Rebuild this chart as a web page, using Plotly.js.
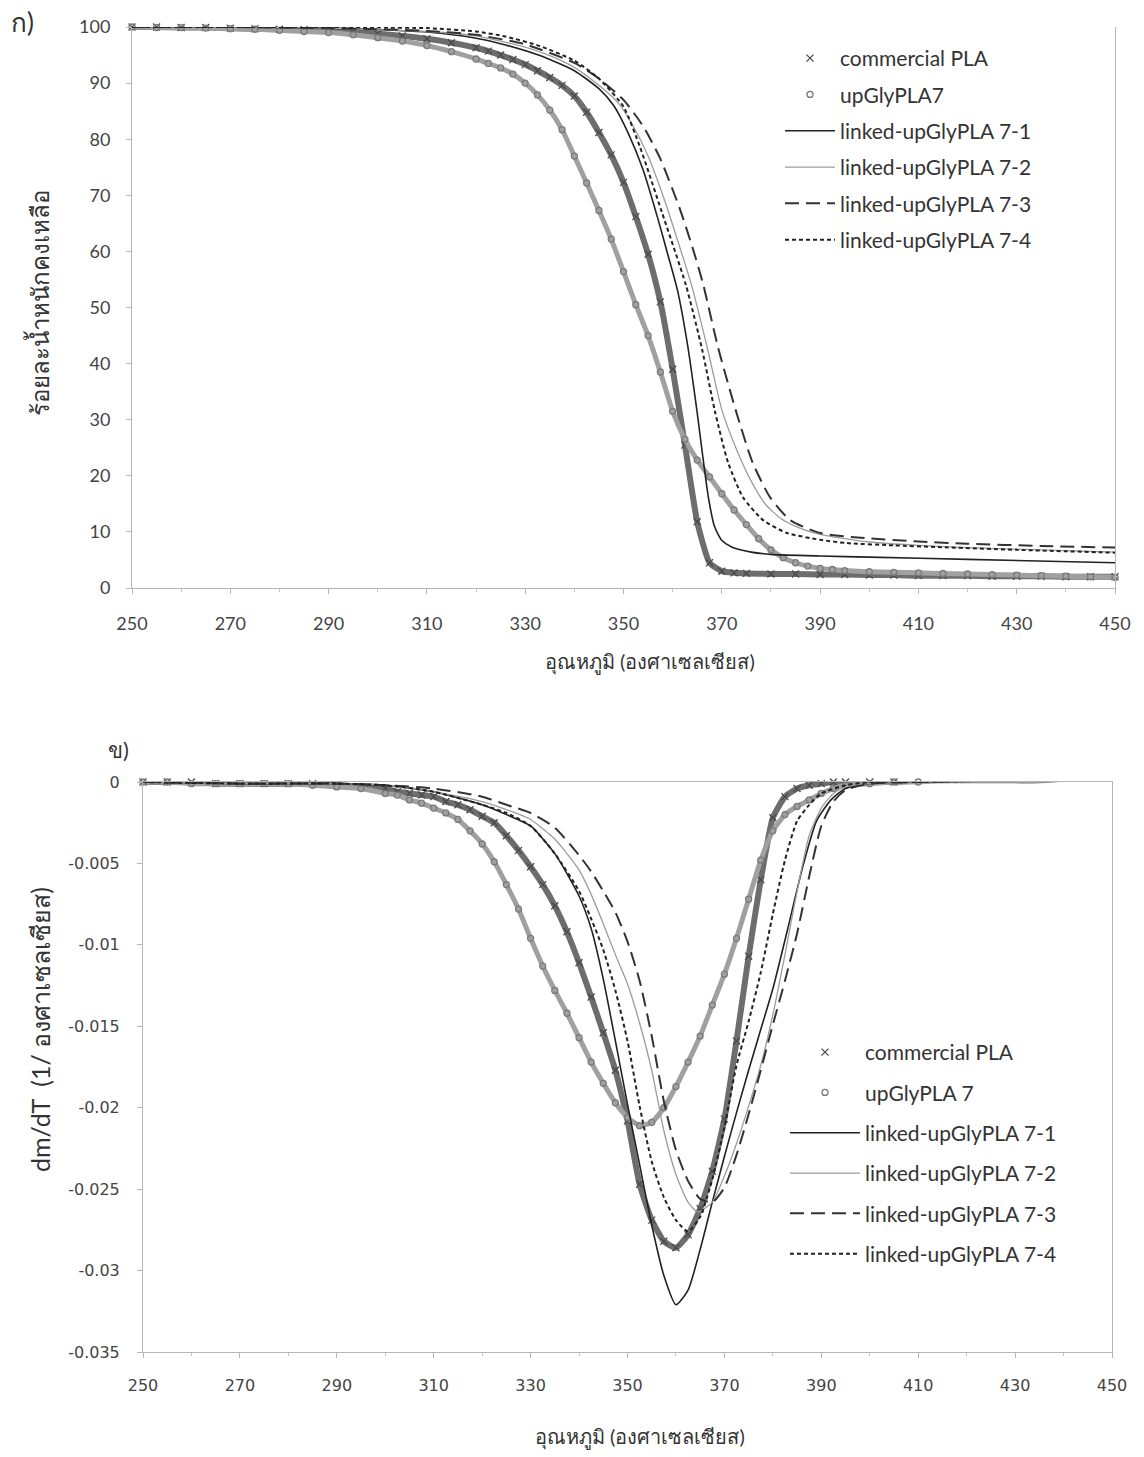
<!DOCTYPE html>
<html><head><meta charset="utf-8">
<script src="https://cdn.plot.ly/plotly-3.0.1.min.js"></script>
<style>html,body{margin:0;padding:0;background:#fff}#chart{width:1144px;height:1457px}</style>
</head><body><div id="chart"></div>
<script>
// ---------- TOP: residual weight (%) ----------
const topPLA_T = [250,255,260,265,270,275,280,285,290,295,300,305,310,315,320,322.5,325,327.5,330,332.5,335,337.5,340,342.5,345,347.5,350,352.5,355,357.5,360,362.5,365,367.5,370,372.5,375,380,385,390,395,400,405,410,415,420,425,430,435,440,445,450];
const topPLA_W = [100.0,100.0,99.9,99.9,99.8,99.7,99.6,99.5,99.3,99.1,98.8,98.4,97.9,97.2,96.3,95.7,95.0,94.2,93.3,92.2,91.0,89.6,87.7,84.8,81.2,77.2,72.3,66.2,59.5,51.0,39.0,25.5,11.8,4.5,3.0,2.7,2.6,2.5,2.5,2.4,2.4,2.3,2.3,2.2,2.2,2.2,2.1,2.1,2.1,2.0,2.0,2.0];

const topGly_T = [250,255,260,265,270,275,280,285,290,295,300,305,310,315,320,322.5,325,327.5,330,332.5,335,337.5,340,342.5,345,347.5,350,352.5,355,357.5,360,362.5,365,367.5,370,372.5,375,377.5,380,382.5,385,387.5,390,392.5,395,400,405,410,415,420,425,430,435,440,445,450];
const topGly_W = [100.0,99.9,99.9,99.8,99.7,99.6,99.4,99.2,99.0,98.6,98.1,97.5,96.7,95.6,94.3,93.5,92.7,91.6,90.0,87.9,85.2,81.7,77.0,72.2,67.3,62.2,56.4,50.5,45.0,38.5,31.5,26.5,22.8,19.8,16.8,13.9,11.3,8.8,6.8,5.4,4.5,3.9,3.5,3.3,3.1,2.9,2.8,2.7,2.6,2.5,2.4,2.3,2.2,2.1,2.0,1.9];

const top71_T = [250,270,290,300,310,320,326,333,340,345,348,351,354,357,359,361,363,365,366.3,367.3,368.5,370,372,376,380,390,400,420,450];
const top71_W = [100,100,99.8,99.5,99.1,98.0,96.8,94.9,92.2,89.0,86.0,81.0,74.5,65.8,59.5,53.0,43.5,31.2,22.3,16.0,11.0,8.5,7.3,6.4,6.0,5.7,5.5,5.1,4.5];

const top72_T = [250,270,290,300,310,320,330,335,340,345,349,352,355,358,361,364,367,370,373,376,379,382,385,389,395,400,410,420,435,450];
const top72_W = [100,100,99.8,99.5,99.2,98.4,96.4,94.9,92.8,89.6,86.4,82.3,77.0,70.0,62.0,53.5,43.0,31.8,24.7,19.0,14.8,12.4,11.0,9.8,8.8,8.2,7.6,7.2,6.8,6.4];

const top73_T = [250,270,290,300,310,320,330,340,345,350,354,357.5,361.5,364,366.2,369.2,373,376.3,379.8,383.9,390,399,410,420,435,450];
const top73_W = [100,100,99.8,99.6,99.3,98.6,96.9,93.6,90.8,87.0,82.3,76.5,67.5,60.8,54.2,43.0,31.2,22.3,16.2,12.1,9.8,8.9,8.3,7.9,7.5,7.2];

const top74_T = [250,270,290,300,310,320,326,333,340,345,350,353.4,357.8,362.7,366,368.6,371.3,374.3,378.4,383.3,390,395.5,405,414,430,450];
const top74_W = [100,100,100,99.9,99.8,99.2,98.3,96.6,94.0,90.8,85.8,78.5,67.0,54.0,42.5,31.5,22.3,16.2,12.1,9.8,8.6,8.0,7.6,7.3,6.8,6.3];

// ---------- BOTTOM: dm/dT ----------
const botPLA_T = [250,255,260,265,270,275,280,285,290,295,300,302.5,305,307.5,310,312.5,315,317.5,320,322.5,325,327.5,330,332.5,335,337.5,340,342.5,345,347.5,350,352.5,355,357.5,360,362.5,365,367.5,370,372.5,375,377.5,380,382.5,385,387.5,390,392.5,395,400,405,410,415,420,425,430,435,440,445,450];
const botPLA_D = [0,0,0,-0.0001,-0.0001,-0.0001,-0.0001,-0.0001,-0.0002,-0.0003,-0.0004,-0.0006,-0.0007,-0.0008,-0.0009,-0.0012,-0.0014,-0.0017,-0.0021,-0.0025,-0.0033,-0.0042,-0.0052,-0.0063,-0.0076,-0.0092,-0.0111,-0.0132,-0.0154,-0.0177,-0.0208,-0.0247,-0.0269,-0.0282,-0.0286,-0.0278,-0.0262,-0.0239,-0.0207,-0.0159,-0.0107,-0.0060,-0.0022,-0.0009,-0.0004,-0.0002,-0.0001,0,0,0,0,0.0001,0.0001,0.0001,0.0001,0.0001,0.0001,0.0002,0.0002,0.0002];

const botGly_T = [250,255,260,265,270,275,280,285,290,295,300,302.5,305,307.5,310,312.5,315,317.5,320,322.5,325,327.5,330,332.5,335,337.5,340,342.5,345,347.5,350,352.5,355,357.5,360,362.5,365,367.5,370,372.5,375,377.5,380,382.5,385,387.5,390,392.5,395,400,405,410,415,420,425,430,435,440,445,450];
const botGly_D = [0,0,-0.0001,-0.0001,-0.0001,-0.0001,-0.0001,-0.0002,-0.0003,-0.0004,-0.0007,-0.0008,-0.0011,-0.0013,-0.0016,-0.0019,-0.0023,-0.0030,-0.0038,-0.0049,-0.0063,-0.0078,-0.0096,-0.0113,-0.0128,-0.0142,-0.0157,-0.0172,-0.0185,-0.0197,-0.0206,-0.0211,-0.0209,-0.0200,-0.0187,-0.0172,-0.0156,-0.0137,-0.0118,-0.0096,-0.0072,-0.0048,-0.0030,-0.0020,-0.0015,-0.0011,-0.0007,-0.0004,-0.0002,-0.0001,0,0,0.0001,0.0001,0.0001,0.0001,0.0001,0.0002,0.0002,0.0002];

const bot71_T = [250,270,290,300,310,320,325,330,335,340,342.5,345,347.5,350,352.5,355,357.5,360,362.5,365,367.5,370,372.5,375,377.5,380,383,386,389,392,395,400,410,430,450];
const bot71_D = [0,-0.0001,-0.0001,-0.0002,-0.0006,-0.0014,-0.0020,-0.0027,-0.0044,-0.0070,-0.0090,-0.0121,-0.0159,-0.0198,-0.0235,-0.0272,-0.0303,-0.0321,-0.0312,-0.0287,-0.0258,-0.0230,-0.0203,-0.0177,-0.0152,-0.0127,-0.0091,-0.0054,-0.0024,-0.0011,-0.0004,-0.0001,0,0.0001,0.0001];

const bot72_T = [250,270,290,300,310,320,325,330,335,337.5,340,342.5,345,347.5,350,352.5,355,357.5,360,362.5,364.5,367.5,370,372.5,375,377.5,380,382.5,385,387.5,390,392.5,395,400,410,430,450];
const bot72_D = [0,-0.0001,-0.0001,-0.0002,-0.0006,-0.0012,-0.0017,-0.0023,-0.0035,-0.0044,-0.0054,-0.0069,-0.0087,-0.0106,-0.0124,-0.0148,-0.0177,-0.0214,-0.0241,-0.0258,-0.0264,-0.0258,-0.0242,-0.0222,-0.0199,-0.0174,-0.0143,-0.0106,-0.0067,-0.0033,-0.0016,-0.0007,-0.0003,-0.0001,0,0.0001,0.0001];

const bot73_T = [250,270,290,300,310,320,325,330,335,340,342.5,345,347.5,350,352.5,355,357.5,360,362.5,365,367.5,370,372.5,375,377.5,380,382.5,385,387.5,390,392.5,395,400,410,430,450];
const bot73_D = [0,-0.0001,-0.0001,-0.0002,-0.0004,-0.0009,-0.0014,-0.0019,-0.0028,-0.0045,-0.0055,-0.0067,-0.0080,-0.0098,-0.0122,-0.0156,-0.0196,-0.0226,-0.0245,-0.0256,-0.0258,-0.0249,-0.0229,-0.0204,-0.0177,-0.0149,-0.0122,-0.0093,-0.0058,-0.0027,-0.0012,-0.0005,-0.0001,0,0.0001,0.0001];

const bot74_T = [250,270,290,300,310,320,325,330,335,340,342.5,345,347.5,350,352.5,355,357.5,360,362.5,365,367.5,370,372.5,375,377.5,380,382.5,385,387.5,390,395,400,410,430,450];
const bot74_D = [0,-0.0001,-0.0001,-0.0002,-0.0006,-0.0014,-0.0019,-0.0027,-0.0044,-0.0067,-0.0084,-0.0103,-0.0128,-0.0159,-0.0199,-0.0233,-0.0255,-0.0269,-0.0276,-0.0267,-0.0244,-0.0212,-0.0174,-0.0147,-0.0117,-0.0081,-0.0048,-0.0024,-0.0014,-0.0007,-0.0002,0,0,0.0001,0.0001];

// ---------- labels ----------
const namesTop = ['commercial PLA','upGlyPLA7','linked-upGlyPLA 7-1','linked-upGlyPLA 7-2','linked-upGlyPLA 7-3','linked-upGlyPLA 7-4'];
const namesBot = ['commercial PLA','upGlyPLA 7','linked-upGlyPLA 7-1','linked-upGlyPLA 7-2','linked-upGlyPLA 7-3','linked-upGlyPLA 7-4'];
const xTickVals = [250,270,290,310,330,350,370,390,410,430,450];
const yTopTickVals = [0,10,20,30,40,50,60,70,80,90,100];
const yBotTickVals = [-0.035,-0.03,-0.025,-0.02,-0.015,-0.01,-0.005,0];
const yBotTickText = ['-0.035','-0.03','-0.025','-0.02','-0.015','-0.01','-0.005','0'];
const xTitle = 'อุณหภูมิ (องศาเซลเซียส)';
const yTopTitle = 'ร้อยละน้ำหนักคงเหลือ';
const yBotTitle = 'dm/dT\u00a0\u00a0(1/ องศาเซลเซียส)';
const panelLabels = ['ก)','ข)'];

const FONT = 'Lato, "Noto Sans", "DejaVu Sans", sans-serif';
const FONT2 = '"DejaVu Sans", Lato, sans-serif';

function bandTraces(T, V, name, ax, leg, grp, bandColor, bw, sym, mcol, msize) {
  return [
    {x:T, y:V, xaxis:ax[0], yaxis:ax[1], mode:'lines', line:{color:bandColor, width:bw, shape:'spline', smoothing:0.5},
     showlegend:false, legendgroup:grp, legend:leg, hoverinfo:'skip', cliponaxis:false},
    {x:T, y:V, xaxis:ax[0], yaxis:ax[1], mode:'markers', name:name, legendgroup:grp, legend:leg, cliponaxis:false,
     marker:{symbol:sym, size:msize, color:mcol, line:{color:mcol, width:1.3}}}
  ];
}
function lineTrace(T, V, name, ax, leg, grp, color, width, dash) {
  return {x:T, y:V, xaxis:ax[0], yaxis:ax[1], mode:'lines', name:name, legendgroup:grp, legend:leg, cliponaxis:false,
    line:{color:color, width:width, dash:dash, shape:'spline', smoothing:0.6}};
}
const A1 = ['x','y'], A2 = ['x2','y2'];
const traces = [].concat(
  bandTraces(topPLA_T, topPLA_W, namesTop[0], A1, 'legend', 't0', '#6d6d6d', 6, 'x-thin-open', '#4a4a4a', 7),
  bandTraces(topGly_T, topGly_W, namesTop[1], A1, 'legend', 't1', '#a0a0a0', 5, 'circle-open', '#7a7a7a', 6),
  [lineTrace(top71_T, top71_W, namesTop[2], A1, 'legend', 't2', '#222', 1.6, 'solid'),
   lineTrace(top72_T, top72_W, namesTop[3], A1, 'legend', 't3', '#9c9c9c', 1.3, 'solid'),
   lineTrace(top73_T, top73_W, namesTop[4], A1, 'legend', 't4', '#333', 2, '14px,7px'),
   lineTrace(top74_T, top74_W, namesTop[5], A1, 'legend', 't5', '#222', 2, '4px,3px')],
  bandTraces(botPLA_T, botPLA_D, namesBot[0], A2, 'legend2', 'b0', '#6d6d6d', 6, 'x-thin-open', '#4a4a4a', 7),
  bandTraces(botGly_T, botGly_D, namesBot[1], A2, 'legend2', 'b1', '#a0a0a0', 5, 'circle-open', '#7a7a7a', 6),
  [lineTrace(bot71_T, bot71_D, namesBot[2], A2, 'legend2', 'b2', '#222', 1.6, 'solid'),
   lineTrace(bot72_T, bot72_D, namesBot[3], A2, 'legend2', 'b3', '#9c9c9c', 1.3, 'solid'),
   lineTrace(bot73_T, bot73_D, namesBot[4], A2, 'legend2', 'b4', '#333', 2, '14px,7px'),
   lineTrace(bot74_T, bot74_D, namesBot[5], A2, 'legend2', 'b5', '#222', 2, '4px,3px')]
);

const W = 1144, H = 1457;
const px = v => v / W, py = v => 1 - v / H;
const axCommon = {showgrid:false, zeroline:false, showline:true, linecolor:'#b5b5b5', linewidth:1,
  ticks:'outside', ticklen:5, tickcolor:'#b5b5b5'};

function ann(text, x, y, size, angle) {
  return {text:text, xref:'paper', yref:'paper', x:px(x), y:py(y), xanchor:'center', yanchor:'middle',
    showarrow:false, textangle:angle||0, font:{size:size, color:'#333', family:FONT}};
}

const layout = {
  width:W, height:H, margin:{l:0, r:0, t:0, b:0}, paper_bgcolor:'#fff', plot_bgcolor:'#fff',
  font:{family:FONT, color:'#333'},
  xaxis: Object.assign({}, axCommon, {domain:[px(132), px(1115)], range:[250,450], anchor:'y',
    tickmode:'array', tickvals:xTickVals, tickfont:{size:18, color:'#444'}, ticklabelstandoff:14,
    minor:{dtick:10, ticks:'outside', ticklen:3, tickcolor:'#c5c5c5'}}),
  yaxis: Object.assign({}, axCommon, {domain:[py(588), py(27)], range:[0,100], anchor:'x', mirror:true,
    tickmode:'array', tickvals:yTopTickVals, tickfont:{size:18, color:'#444'}, ticklabelstandoff:12}),
  xaxis2: Object.assign({}, axCommon, {domain:[px(143), px(1112)], range:[250,450], anchor:'y2', mirror:true,
    tickmode:'array', tickvals:xTickVals, tickfont:{size:16, color:'#444', family:FONT2}, ticklabelstandoff:14,
    minor:{dtick:10, ticks:'outside', ticklen:3, tickcolor:'#c5c5c5'}}),
  yaxis2: Object.assign({}, axCommon, {domain:[py(1352), py(782)], range:[-0.035,0], anchor:'x2', mirror:true,
    tickmode:'array', tickvals:yBotTickVals, ticktext:yBotTickText, tickfont:{size:16, color:'#444', family:FONT2}, ticklabelstandoff:14}),
  legend: {x:px(780), y:py(38), xanchor:'left', yanchor:'top', bgcolor:'rgba(0,0,0,0)', borderwidth:0,
    font:{size:21, color:'#333', family:FONT}, traceorder:'grouped', tracegroupgap:6, itemwidth:50},
  legend2: {x:px(785), y:py(1032), xanchor:'left', yanchor:'top', bgcolor:'rgba(0,0,0,0)', borderwidth:0,
    font:{size:21, color:'#333', family:FONT}, traceorder:'grouped', tracegroupgap:10, itemwidth:70},
  annotations: [
    ann(xTitle, 650, 662, 20, 0),
    ann(yTopTitle, 38, 303, 24, -90),
    ann(xTitle, 640, 1437, 20, 0),
    ann(yBotTitle, 40, 1030, 25, -90),
    ann(panelLabels[0], 22, 22, 26, 0),
    ann(panelLabels[1], 118, 750, 22, 0)
  ]
};
Plotly.newPlot('chart', traces, layout, {displayModeBar:false, responsive:false});
</script></body></html>
